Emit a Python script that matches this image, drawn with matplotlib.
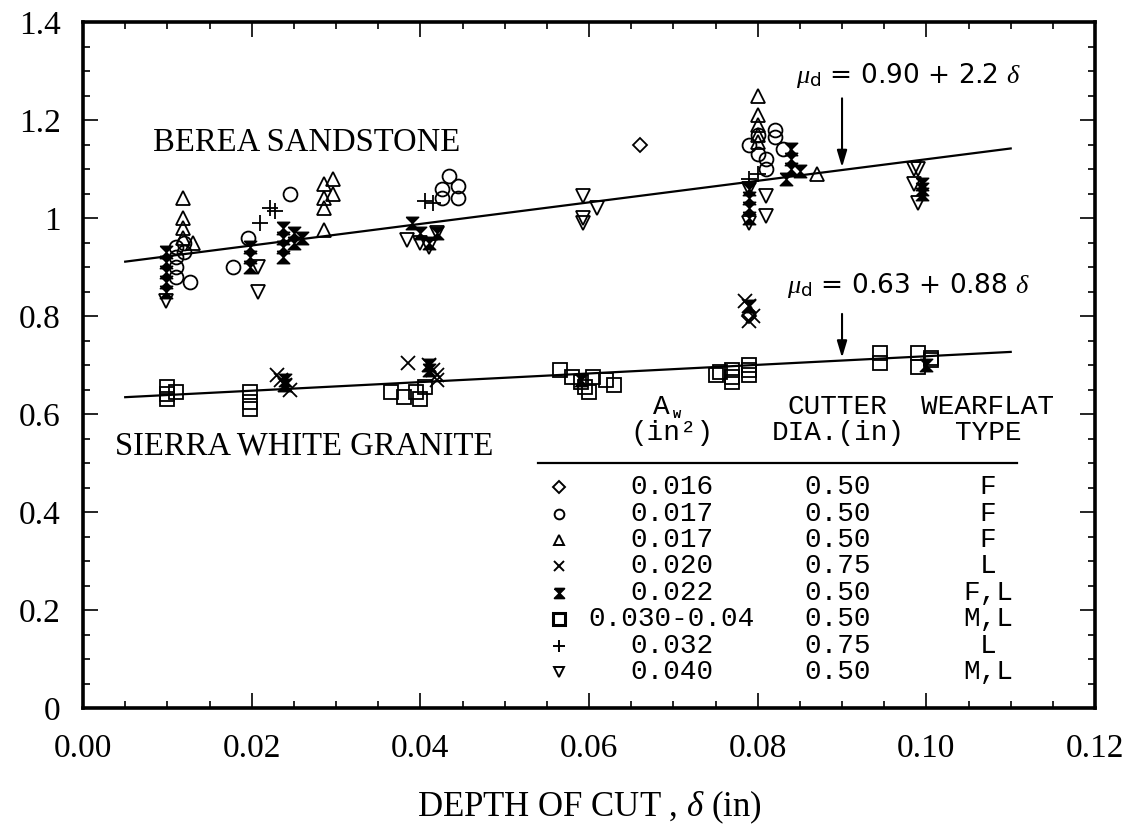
import numpy as np
import matplotlib.pyplot as plt
from matplotlib.ticker import MultipleLocator, FixedLocator, FixedFormatter

# fitted lines  mu_d = a + b * delta
berea_a, berea_b = 0.90, 2.2
granite_a, granite_b = 0.63, 0.88
fit_lo, fit_hi = 0.005, 0.11

# data (delta, mu) per symbol
diamond_x = [0.066, 0.079]
diamond_y = [1.15, 0.80]

circle_x = [0.011, 0.011, 0.011, 0.011, 0.0127, 0.012, 0.012, 0.0178, 0.0196, 0.0245,
            0.0426, 0.0426, 0.0434, 0.0445, 0.0445,
            0.079, 0.080, 0.081, 0.082, 0.082, 0.081, 0.080, 0.083]
circle_y = [0.94, 0.92, 0.90, 0.88, 0.87, 0.95, 0.93, 0.90, 0.96, 1.05,
            1.06, 1.04, 1.085, 1.065, 1.04,
            1.15, 1.17, 1.12, 1.18, 1.165, 1.10, 1.13, 1.14]

tri_up_x = [0.0119, 0.0119, 0.0119, 0.0119, 0.013,
            0.0286, 0.0286, 0.0286, 0.0286, 0.0296, 0.0296,
            0.080, 0.080, 0.080, 0.080, 0.080, 0.087]
tri_up_y = [1.04, 1.00, 0.98, 0.96, 0.95,
            1.07, 1.04, 1.02, 0.975, 1.08, 1.05,
            1.25, 1.21, 1.19, 1.17, 1.155, 1.09]

cross_x = [0.023, 0.0235, 0.024, 0.0245, 0.0385, 0.041, 0.0415, 0.042, 0.042,
           0.0785, 0.079, 0.0795, 0.079]
cross_y = [0.68, 0.67, 0.66, 0.65, 0.705, 0.70, 0.69, 0.68, 0.67,
           0.83, 0.82, 0.80, 0.79]

hour_x = [0.0098, 0.0098, 0.0098, 0.0098, 0.0098, 0.0198, 0.0198, 0.0198,
          0.0237, 0.0237, 0.0237, 0.0237, 0.025, 0.025, 0.026,
          0.039, 0.040, 0.041, 0.042, 0.079, 0.079, 0.079, 0.079,
          0.0833, 0.084, 0.084, 0.084, 0.085, 0.0995, 0.0995, 0.0995,
          0.024, 0.024, 0.041, 0.041, 0.059, 0.079, 0.100]
hour_y = [0.93, 0.91, 0.89, 0.87, 0.85, 0.94, 0.92, 0.90,
          0.98, 0.96, 0.94, 0.92, 0.97, 0.95, 0.96,
          0.99, 0.97, 0.95, 0.97, 1.06, 1.04, 1.02, 1.00,
          1.08, 1.14, 1.12, 1.10, 1.095, 1.07, 1.06, 1.05,
          0.66, 0.67, 0.70, 0.69, 0.67, 0.82, 0.70]

square_x = [0.0100, 0.0100, 0.0100, 0.011, 0.0198, 0.0198, 0.0198,
            0.0365, 0.038, 0.0395, 0.040, 0.0405,
            0.0565, 0.058, 0.059, 0.0595, 0.060, 0.0605, 0.062, 0.063,
            0.075, 0.0755, 0.077, 0.077, 0.077, 0.079, 0.079, 0.079,
            0.0945, 0.0945, 0.099, 0.099, 0.1005, 0.1005]
square_y = [0.655, 0.64, 0.63, 0.645, 0.645, 0.625, 0.61,
            0.645, 0.635, 0.645, 0.63, 0.655,
            0.69, 0.675, 0.665, 0.655, 0.645, 0.675, 0.67, 0.66,
            0.68, 0.685, 0.69, 0.675, 0.665, 0.70, 0.69, 0.68,
            0.725, 0.705, 0.725, 0.695, 0.71, 0.715]

plus_x = [0.021, 0.0222, 0.0228, 0.0405, 0.0415, 0.079, 0.080]
plus_y = [0.99, 1.02, 1.015, 1.035, 1.03, 1.08, 1.09]

tri_dn_x = [0.0098, 0.0208, 0.0208, 0.0384, 0.040, 0.041, 0.042,
            0.0593, 0.0593, 0.0593, 0.061, 0.079, 0.079, 0.081, 0.081,
            0.0985, 0.0985, 0.099, 0.099]
tri_dn_y = [0.83, 0.90, 0.85, 0.955, 0.95, 0.94, 0.97,
            1.045, 1.00, 0.99, 1.02, 1.06, 0.99, 1.045, 1.005,
            1.07, 1.10, 1.03, 1.10]

# legend table
table_aw = ['0.016', '0.017', '0.017', '0.020', '0.022', '0.030-0.04', '0.032', '0.040']
table_dia = ['0.50', '0.50', '0.50', '0.75', '0.50', '0.50', '0.75', '0.50']
table_type = ['F', 'F', 'F', 'L', 'F,L', 'M,L', 'L', 'M,L']

x_ticks = [0.00, 0.02, 0.04, 0.06, 0.08, 0.10, 0.12]
x_ticklabels = ['0.00', '0.02', '0.04', '0.06', '0.08', '0.10', '0.12']
y_ticks = [0, 0.2, 0.4, 0.6, 0.8, 1.0, 1.2, 1.4]
y_ticklabels = ['0', '0.2', '0.4', '0.6', '0.8', '1', '1.2', '1.4']

hourglass = [(-1, 1), (1, 1), (0, 0), (1, -1), (-1, -1), (0, 0), (-1, 1)]

serif = 'Liberation Serif'
mono = 'Liberation Mono'
plt.rcParams['mathtext.fontset'] = 'custom'
plt.rcParams['mathtext.rm'] = 'DejaVu Sans'
plt.rcParams['mathtext.it'] = 'Liberation Serif:italic'

fig = plt.figure(figsize=(11.39, 8.32), dpi=100)
ax = fig.add_axes([0.0729, 0.149, 0.8885, 0.8245])

xs = np.array([fit_lo, fit_hi])
ax.plot(xs, berea_a + berea_b * xs, color='k', lw=1.6)
ax.plot(xs, granite_a + granite_b * xs, color='k', lw=1.6)

ms = 10
open_kw = dict(ls='none', mfc='none', mec='k', mew=1.3)
ax.plot(diamond_x, diamond_y, marker='D', ms=7, **open_kw)
ax.plot(circle_x, circle_y, marker='o', ms=ms, **open_kw)
ax.plot(tri_up_x, tri_up_y, marker='^', ms=ms, **open_kw)
ax.plot(cross_x, cross_y, marker='x', ms=ms, ls='none', color='k', mew=1.3)
ax.plot(hour_x, hour_y, marker=hourglass, ms=9, ls='none', mfc='k', mec='k', mew=1.0)
ax.plot(square_x, square_y, marker='s', ms=ms, **open_kw)
ax.plot(plus_x, plus_y, marker='+', ms=12, ls='none', color='k', mew=1.3)
ax.plot(tri_dn_x, tri_dn_y, marker='v', ms=ms, **open_kw)

# equations and arrows
arrow_kw = dict(arrowstyle='-|>,head_width=0.3,head_length=1.0', color='k', lw=1.5)
ax.text(0.0845, 1.29, r'$\mu_{\rm d}$ = 0.90 + 2.2 $\delta$', fontsize=19, va='center')
ax.annotate('', xy=(0.09, berea_a + berea_b * 0.09), xytext=(0.09, 1.25), arrowprops=arrow_kw)
ax.text(0.0835, 0.862, r'$\mu_{\rm d}$ = 0.63 + 0.88 $\delta$', fontsize=19, va='center')
ax.annotate('', xy=(0.09, granite_a + granite_b * 0.09), xytext=(0.09, 0.81), arrowprops=arrow_kw)

ax.text(0.0083, 1.153, 'BEREA SANDSTONE', fontfamily=serif, fontsize=23.5, va='center')
ax.text(0.0038, 0.535, 'SIERRA WHITE GRANITE', fontfamily=serif, fontsize=23.5, va='center')

# table
tfs = 20
col_mark, col_aw, col_dia, col_type = 0.0564, 0.0698, 0.0895, 0.1073
ax.text(col_aw - 0.0012, 0.614, 'A', fontfamily=mono, fontsize=tfs, ha='center', va='center')
ax.text(col_aw + 0.0006, 0.600, 'w', fontfamily=mono, fontsize=10, ha='center', va='center',
        fontweight='bold')
ax.text(col_aw, 0.561, '(in²)', fontfamily=mono, fontsize=tfs, ha='center', va='center')
ax.text(col_dia, 0.614, 'CUTTER', fontfamily=mono, fontsize=tfs, ha='center', va='center')
ax.text(col_dia, 0.561, 'DIA.(in)', fontfamily=mono, fontsize=tfs, ha='center', va='center')
ax.text(col_type, 0.614, 'WEARFLAT', fontfamily=mono, fontsize=tfs, ha='center', va='center')
ax.text(col_type, 0.561, 'TYPE', fontfamily=mono, fontsize=tfs, ha='center', va='center')
ax.plot([0.054, 0.1108], [0.50, 0.50], color='k', lw=1.6)

row_marks = [('D', 6, 'none'), ('o', 7, 'none'), ('^', 7, 'none'), ('x', 7, 'none'),
             (hourglass, 7, 'k'), ('s', 8, 'none'), ('+', 8, 'none'), ('v', 7, 'none')]
for i in range(len(table_aw)):
    yy = 0.451 - i * 0.054
    mk, msz, fc = row_marks[i]
    ax.plot([col_mark], [yy], marker=mk, ms=msz, mfc=fc, mec='k', color='k',
            mew=2.2 if mk == 's' else 1.4, ls='none')
    ax.text(col_aw, yy, table_aw[i], fontfamily=mono, fontsize=tfs, ha='center', va='center')
    ax.text(col_dia, yy, table_dia[i], fontfamily=mono, fontsize=tfs, ha='center', va='center')
    ax.text(col_type, yy, table_type[i], fontfamily=mono, fontsize=tfs, ha='center', va='center')

ax.set_xlim(0, 0.12)
ax.set_ylim(0, 1.4)
ax.xaxis.set_major_locator(FixedLocator(x_ticks))
ax.xaxis.set_major_formatter(FixedFormatter(x_ticklabels))
ax.xaxis.set_minor_locator(MultipleLocator(0.005))
ax.yaxis.set_major_locator(FixedLocator(y_ticks))
ax.yaxis.set_major_formatter(FixedFormatter(y_ticklabels))
ax.yaxis.set_minor_locator(MultipleLocator(0.05))
ax.tick_params(which='both', direction='in', top=True, right=True, width=1.2)
ax.tick_params(which='major', length=11)
ax.tick_params(which='minor', length=5)
ax.tick_params(axis='y', which='major', pad=16, labelsize=24)
ax.tick_params(axis='x', which='major', pad=18, labelsize=24)
for lab in ax.get_xticklabels() + ax.get_yticklabels():
    lab.set_fontfamily(serif)
for sp in ax.spines.values():
    sp.set_linewidth(2.6)

ax.set_xlabel(r'DEPTH OF CUT , $\delta$ (in)', fontfamily=serif, fontsize=25, labelpad=18)

fig.savefig('out.png', dpi=100)
